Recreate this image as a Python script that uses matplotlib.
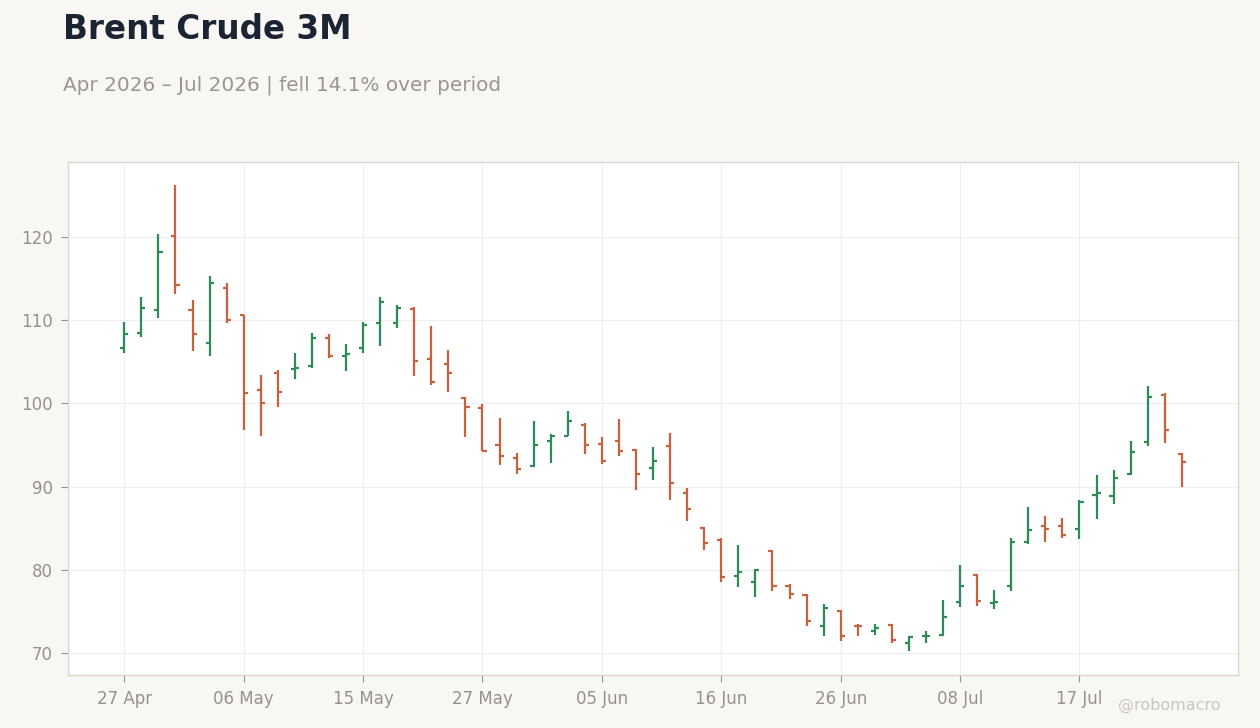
import matplotlib
matplotlib.use("Agg")
import matplotlib.pyplot as plt
import pandas as pd

# trading days (US calendar: Memorial Day, Juneteenth, 3 Jul closed)
holidays = ["2026-05-25", "2026-06-19", "2026-07-03"]
dates = pd.bdate_range("2026-04-27", "2026-07-27", freq="C", holidays=holidays)

opens = [106.6, 108.4, 111.2, 120.1, 111.2, 107.2, 113.9, 110.6, 101.6, 103.7,
         104.1, 104.5, 107.8, 105.7, 106.7, 109.7, 109.6, 111.3, 105.3, 104.7,
         100.6, 99.5, 95.0, 93.45, 92.45, 95.5, 96.1, 97.4, 95.1, 95.5,
         94.4, 92.25, 94.9, 89.2, 85.05, 83.6, 79.3, 78.5, 82.3, 78.1,
         77.0, 73.2, 75.0, 73.3, 72.7, 73.4, 71.2, 72.0, 72.2, 76.1,
         79.4, 76.05, 78.1, 83.4, 85.3, 85.3, 84.9, 89.0, 88.9, 91.5,
         95.3, 101.0, 93.9]
highs = [109.8, 112.8, 120.4, 126.2, 112.4, 115.3, 114.5, 110.6, 103.4, 104.0,
         106.1, 108.5, 108.35, 107.1, 109.8, 112.8, 111.85, 111.6, 109.3, 106.4,
         100.8, 99.9, 98.2, 94.0, 97.9, 96.3, 99.1, 97.6, 95.9, 98.1,
         94.5, 94.7, 96.4, 89.8, 85.2, 83.8, 83.0, 80.1, 82.4, 78.3,
         77.1, 75.9, 75.15, 73.5, 73.5, 73.5, 72.0, 72.7, 76.4, 80.6,
         79.5, 77.6, 83.8, 87.5, 86.5, 86.2, 88.35, 91.4, 92.0, 95.5,
         102.1, 101.2, 94.0]
lows = [106.0, 108.0, 110.3, 113.1, 106.3, 105.7, 109.7, 96.8, 96.1, 99.6,
        102.9, 104.2, 105.4, 103.9, 106.1, 106.9, 109.0, 103.3, 102.25, 101.4,
        96.0, 94.3, 92.6, 91.5, 92.4, 92.85, 96.1, 93.9, 92.7, 93.65,
        89.6, 90.8, 88.4, 85.9, 82.4, 78.5, 77.9, 76.7, 77.4, 76.5,
        73.2, 72.1, 71.5, 72.0, 72.2, 71.2, 70.2, 71.2, 72.1, 75.5,
        75.7, 75.35, 77.4, 83.1, 83.3, 83.8, 83.7, 86.1, 87.9, 91.4,
        94.9, 95.2, 89.9]
closes = [108.3, 111.4, 118.2, 114.2, 108.3, 114.5, 110.0, 101.3, 100.0, 101.4,
          104.3, 107.9, 105.7, 105.9, 109.4, 112.2, 111.4, 105.1, 102.6, 103.6,
          99.6, 94.3, 93.7, 92.1, 95.0, 96.1, 97.9, 95.0, 93.1, 94.3,
          91.5, 93.1, 90.4, 87.3, 83.25, 79.1, 79.7, 79.95, 78.0, 77.15,
          73.8, 75.4, 72.1, 73.2, 72.95, 71.6, 71.9, 72.1, 74.3, 78.1,
          76.3, 76.1, 83.4, 84.8, 84.9, 84.2, 88.15, 89.2, 91.0, 94.1,
          100.8, 96.8, 93.0]

UP = "#2e8b57"
DOWN = "#c9603e"
BG = "#f9f7f4"

fig = plt.figure(figsize=(12.6, 7.28), dpi=100, facecolor=BG)
ax = fig.add_axes([0.054, 0.0728, 0.9286, 0.7047])
ax.set_facecolor("white")

x = list(range(len(dates)))
cols = [UP if c > o else DOWN for o, c in zip(opens, closes)]
w = 0.24
ax.vlines(x, lows, highs, colors=cols, linewidth=1.6, zorder=3)
ax.hlines(opens, [i - w for i in x], x, colors=cols, linewidth=1.6, zorder=3)
ax.hlines(closes, x, [i + w for i in x], colors=cols, linewidth=1.6, zorder=3)

ticks = x[::7]
ax.set_xticks(ticks)
ax.set_xticklabels([dates[i].strftime("%d %b") for i in ticks])
ax.set_yticks([70, 80, 90, 100, 110, 120])
ax.set_xlim(-3.3, 65.3)
ax.set_ylim(67.36, 129.0)

ax.grid(True, color="#eeeeee", linewidth=0.8, zorder=0)
ax.set_axisbelow(True)
for s in ax.spines.values():
    s.set_color("#dcd6cf")
    s.set_linewidth(1.0)
ax.tick_params(colors="#96918c", labelsize=12, length=5, width=0.8, pad=6)
ax.tick_params(axis="both", color="#96918c")

fig.text(0.05, 0.959, "Brent Crude 3M", fontsize=23.5, fontweight="bold",
         color="#1b2433", va="center", ha="left")
fig.text(0.05, 0.883, "Apr 2026 \u2013 Jul 2026 | fell 14.1% over period",
         fontsize=14.4, color="#9a9590", va="center", ha="left")
fig.text(0.928, 0.031, "@robomacro", fontsize=11.5, color="#cac6c1",
         va="center", ha="center")

fig.savefig("out.png", dpi=100, facecolor=BG)
